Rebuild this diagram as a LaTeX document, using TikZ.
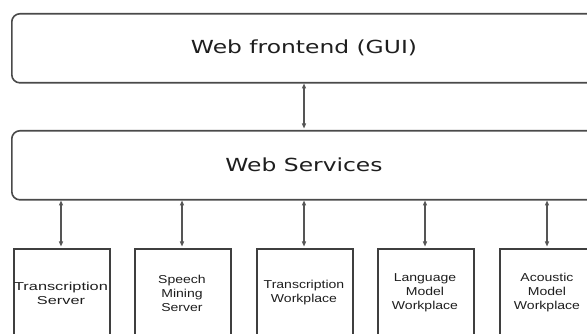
\documentclass[tikz,border=0pt]{standalone}
\usepackage{fontspec}
\setmainfont{DejaVu Sans}
\newfontfamily\topfont[FakeStretch=1.3]{DejaVu Sans}
\newfontfamily\boxfont[FakeStretch=1.22]{Liberation Sans}
\newfontfamily\boxfontwide[FakeStretch=1.42]{Liberation Sans}
\usetikzlibrary{arrows.meta}
\definecolor{edge}{HTML}{4A4A4A}
\definecolor{arr}{HTML}{555555}
\definecolor{txt}{HTML}{1E1E1E}
\tikzset{
  x=1pt,y=1pt,
  layerbox/.style={draw=edge,line width=1.6pt,rounded corners=8pt,minimum width=600pt,anchor=north west,inner sep=0pt,text=txt,font=\topfont\fontsize{18}{20}\selectfont},
  modbox/.style={draw=edge!85!black,line width=2.3pt,minimum width=96pt,minimum height=110pt,anchor=north west,inner sep=0pt,text=txt},
  modtext/.style={align=center,text=txt,font=\boxfont\fontsize{11.5}{14}\selectfont},
  link/.style={draw=arr,line width=1.1pt,{Triangle[length=5pt,width=4pt]}-{Triangle[length=5pt,width=4pt]},shorten <=1.5pt,shorten >=1.5pt}
}
\begin{document}
\begin{tikzpicture}
\clip (0,0) rectangle (587,-334);
\node[layerbox,minimum height=69pt] (gui) at (11,-13) {};
\node[txt,font=\topfont\fontsize{18}{20}\selectfont] (guit) at (304,-48) {Web frontend (GUI)};
\node[layerbox,minimum height=69pt] (ws) at (11,-130) {};
\node[txt,font=\topfont\fontsize{18}{20}\selectfont] (wst) at (304,-165) {Web Services};

\node[modbox] (m1) at (13,-248) {};
\node[modbox] (m2) at (134,-248) {};
\node[modbox] (m3) at (256,-248) {};
\node[modbox] (m4) at (377,-248) {};
\node[modbox] (m5) at (499,-248) {};

\node[modtext,font=\boxfontwide\fontsize{11.5}{14}\selectfont] (t1) at (61,-293) {Transcription\\Server};
\node[modtext] (t2) at (182,-293) {Speech\\Mining\\Server};
\node[modtext] (t3) at (304,-293) {Transcription\\Workplace};
\node[modtext] (t4) at (425,-293) {Language\\Model\\Workplace};
\node[modtext] (t5) at (547,-293) {Acoustic\\Model\\Workplace};

\coordinate (a0) at (304,-82);
\coordinate (b0) at (304,-130);
\draw[link] (a0) -- (b0);
\foreach \i/\x in {1/61,2/182,3/304,4/425,5/547}{
  \coordinate (u\i) at (\x,-199);
  \draw[link] (u\i) -- (m\i.north -| u\i);
}
\end{tikzpicture}
\end{document}
